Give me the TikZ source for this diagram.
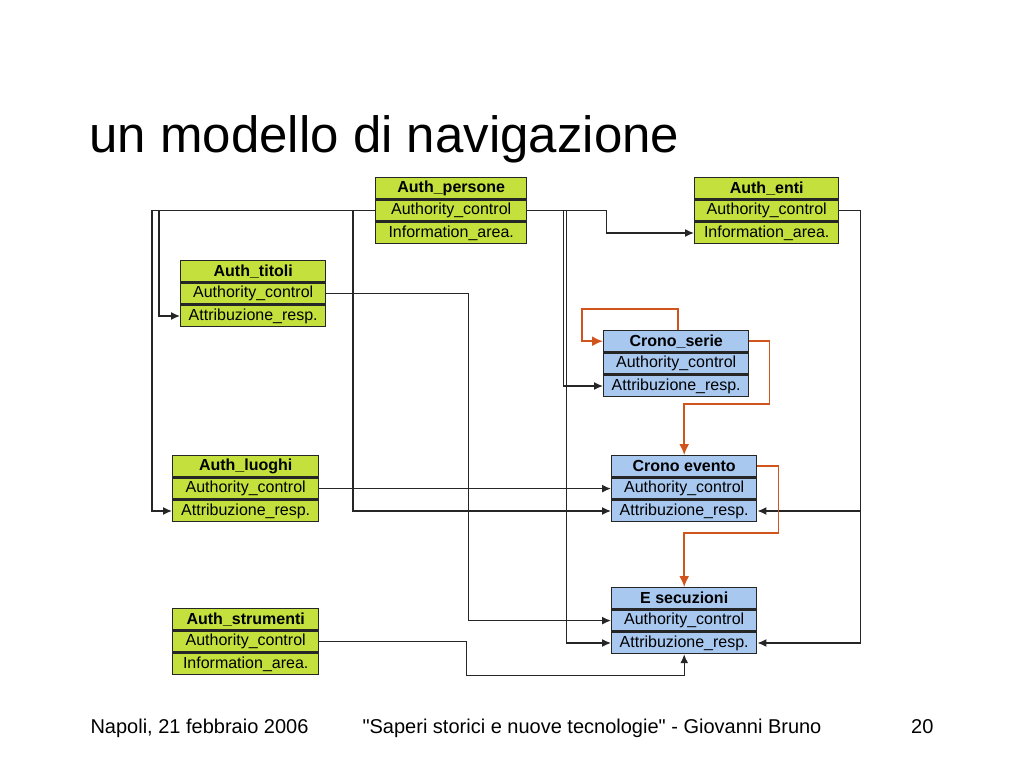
\documentclass[tikz,border=0pt]{standalone}
\usepackage{fontspec}
\setmainfont{Liberation Sans}
\usetikzlibrary{positioning,arrows.meta}
\definecolor{authgreen}{HTML}{C4E03C}
\definecolor{cronoblue}{HTML}{A8C8F0}
\definecolor{linkorange}{HTML}{D0541C}
\tikzset{
  >={Latex[length=9pt,width=8pt]},
  cell/.style={draw=black!85, line width=1.4pt, minimum width=146pt, minimum height=21pt,
    inner sep=0pt, font=\fontsize{16}{18}\selectfont},
  head/.style={cell, font=\fontsize{16}{18}\selectfont\bfseries},
  auth/.style={fill=authgreen},
  crono/.style={fill=cronoblue},
  link/.style={->, line width=1.4pt, draw=black!85},
  olink/.style={-{Latex[length=11pt,width=10pt]}, line width=1.7pt, draw=linkorange},
}

\begin{document}
\begin{tikzpicture}[x=1pt,y=-1pt]
  \useasboundingbox (0,0) rectangle (1024,768);

  \node[anchor=base west, font=\fontsize{51}{60}\selectfont] (title) at (86,152) {un modello di navigazione};

  % tabelle di authority
  \node[head,auth,minimum width=151pt,anchor=north west] (pers0) at (375,177) {Auth\_persone};
  \node[cell,auth,minimum width=151pt,below=0pt of pers0] (pers1) {Authority\_control};
  \node[cell,auth,minimum width=151pt,below=0pt of pers1] (pers2) {Information\_area.};

  \node[head,auth,minimum width=144pt,anchor=north west] (enti0) at (694,177) {Auth\_enti};
  \node[cell,auth,minimum width=144pt,below=0pt of enti0] (enti1) {Authority\_control};
  \node[cell,auth,minimum width=144pt,below=0pt of enti1] (enti2) {Information\_area.};

  \node[head,auth,minimum width=145pt,anchor=north west] (titoli0) at (180,260) {Auth\_titoli};
  \node[cell,auth,minimum width=145pt,below=0pt of titoli0] (titoli1) {Authority\_control};
  \node[cell,auth,minimum width=145pt,below=0pt of titoli1] (titoli2) {Attribuzione\_resp.};

  \node[head,auth,anchor=north west] (luoghi0) at (172,455) {Auth\_luoghi};
  \node[cell,auth,below=0pt of luoghi0] (luoghi1) {Authority\_control};
  \node[cell,auth,below=0pt of luoghi1] (luoghi2) {Attribuzione\_resp.};

  \node[head,auth,anchor=north west] (strum0) at (172,608) {Auth\_strumenti};
  \node[cell,auth,below=0pt of strum0] (strum1) {Authority\_control};
  \node[cell,auth,below=0pt of strum1] (strum2) {Information\_area.};

  % tabelle cronologiche
  \node[head,crono,minimum width=145pt,anchor=north west] (serie0) at (603,330) {Crono\_serie};
  \node[cell,crono,minimum width=145pt,below=0pt of serie0] (serie1) {Authority\_control};
  \node[cell,crono,minimum width=145pt,below=0pt of serie1] (serie2) {Attribuzione\_resp.};

  \node[head,crono,minimum width=145pt,anchor=north west] (evento0) at (611,455) {Crono evento};
  \node[cell,crono,minimum width=145pt,below=0pt of evento0] (evento1) {Authority\_control};
  \node[cell,crono,minimum width=145pt,below=0pt of evento1] (evento2) {Attribuzione\_resp.};

  \node[head,crono,minimum width=145pt,anchor=north west] (esec0) at (611,587) {E secuzioni};
  \node[cell,crono,minimum width=145pt,below=0pt of esec0] (esec1) {Authority\_control};
  \node[cell,crono,minimum width=145pt,below=0pt of esec1] (esec2) {Attribuzione\_resp.};

  % collegamenti
  \draw[link] (pers1.west) -- ++(-223,0) |- (luoghi2.west);
  \draw[link] ([xshift=-216pt]pers1.west) |- (titoli2.west);
  \draw[link] ([xshift=-22pt]pers1.west) |- (evento2.west);
  \draw[link] (pers1.east) -- ++(79,0) |- (enti2.west);
  \draw[link] ([xshift=36pt]pers1.east) |- (serie2.west);
  \draw[link] ([xshift=39pt]pers1.east) |- (esec2.west);
  \draw[link] (titoli1.east) -- ++(142,0) |- (esec1.west);
  \draw[link] (luoghi1.east) -- (evento1.west);
  \draw[link] (strum1.east) -- ++(147,0) |- ([yshift=-21pt]esec2.south) -- (esec2.south);
  \draw[link] (enti1.east) -- ++(21,0) |- (esec2.east);
  \draw[link] ([xshift=21pt]enti1.east) |- (evento2.east);

  \draw[olink] ([xshift=2pt]serie0.north) -- ++(0,-21) -| ([xshift=-21pt]serie0.west) -- (serie0.west);
  \draw[olink] (serie0.east) -- ++(20,0) -- ++(0,63) -| (evento0.north);
  \draw[olink] (evento0.east) -- ++(21,0) -- ++(0,67) -| (esec0.north);

  % pie' di pagina
  \node[anchor=base west, font=\fontsize{20}{24}\selectfont] (data) at (87,733) {Napoli, 21 febbraio 2006};
  \node[anchor=base, font=\fontsize{20}{24}\selectfont] (convegno) at (592,733) {\textquotedbl Saperi storici e nuove tecnologie\textquotedbl{} - Giovanni Bruno};
  \node[anchor=base east, font=\fontsize{20}{24}\selectfont] (pagina) at (937,733) {20};
\end{tikzpicture}
\end{document}
